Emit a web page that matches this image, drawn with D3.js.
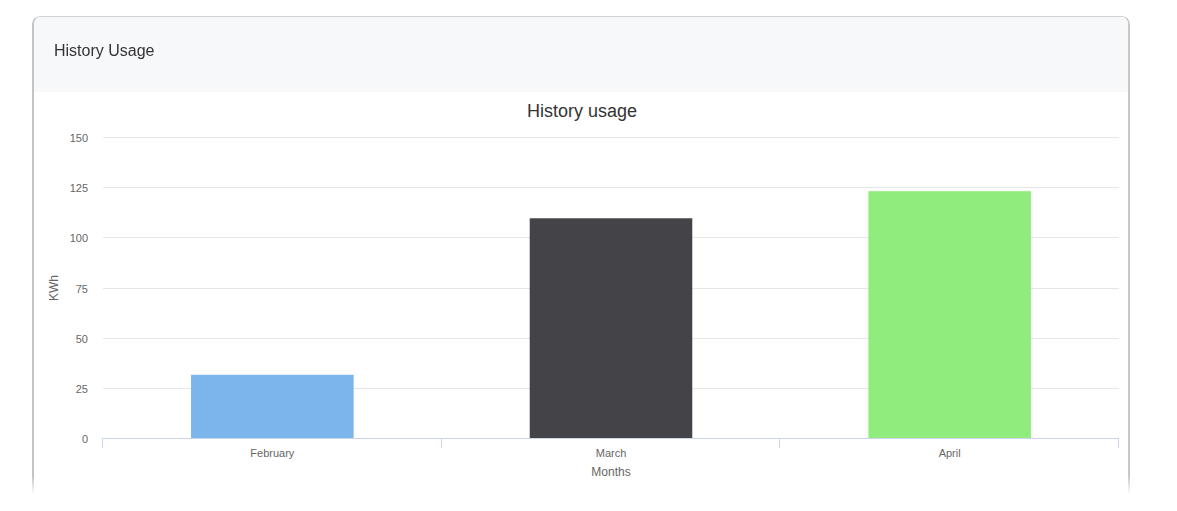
<!DOCTYPE html>
<html>
<head>
<meta charset="utf-8">
<script src="https://cdn.jsdelivr.net/npm/d3@7"></script>
<style>
  body { margin: 0; background: #fff; font-family: "Liberation Sans", Arial, Helvetica, sans-serif; }
  .card {
    position: absolute; left: 32px; top: 16px; width: 1094px; height: 480px;
    border: 1px solid #d2d2d2; border-left: 2px solid #c4c4c4; border-right: 2px solid #c8c8c8;
    border-bottom: none; border-radius: 8px 8px 0 0;
    -webkit-mask-image: linear-gradient(to bottom, #000 460px, transparent 478px);
  }
  .card-header {
    height: 75px; background: #f7f8fa; border-radius: 8px 8px 0 0;
    font-size: 16px; color: #333; line-height: 16px; padding: 26px 0 0 20px; box-sizing: border-box;
  }
  #chart { position: absolute; left: 0; top: 0; }
</style>
</head>
<body>
<div class="card"><div class="card-header">History Usage</div></div>
<svg id="chart" width="1177" height="511"></svg>
<script>
var months = ['February', 'March', 'April']
var usage = [31.5, 109.5, 123]
var colors = ['#7cb5ec', '#434348', '#90ed7d']
var yTicks = [0, 25, 50, 75, 100, 125, 150]

var svg = d3.select('#chart')
var plotLeft = 103, plotRight = 1119, plotTop = 137, plotBottom = 438

var x = d3.scaleBand().domain(months).range([plotLeft, plotRight])
var y = d3.scaleLinear().domain([0, 150]).range([plotBottom, plotTop])

// title
svg.append('text')
  .attr('x', 582).attr('y', 117)
  .attr('text-anchor', 'middle')
  .attr('font-size', 18).attr('fill', '#333333')
  .text('History usage')

// grid
svg.append('g').selectAll('line').data(yTicks.filter(function (d) { return d > 0 }))
  .enter().append('line')
  .attr('x1', plotLeft).attr('x2', plotRight)
  .attr('y1', function (d) { return Math.round(y(d)) + 0.5 })
  .attr('y2', function (d) { return Math.round(y(d)) + 0.5 })
  .attr('stroke', '#e6e6e6')

// y axis labels
var yAxis = svg.append('g').attr('transform', 'translate(' + plotLeft + ',1)')
  .call(d3.axisLeft(y).tickValues(yTicks).tickSize(0).tickPadding(15))
yAxis.select('.domain').remove()
yAxis.selectAll('text').attr('font-size', 11).attr('fill', '#666666')
  .attr('font-family', '"Liberation Sans", Arial, sans-serif')

svg.append('text')
  .attr('transform', 'translate(58,288) rotate(-90)')
  .attr('text-anchor', 'middle')
  .attr('font-size', 12).attr('fill', '#666666')
  .text('KWh')

// bars
var group = x.bandwidth() * 0.2
var barW = (x.bandwidth() - 2 * group) * 0.8
svg.append('g').selectAll('rect').data(usage)
  .enter().append('rect')
  .attr('x', function (d, i) { return x(months[i]) + (x.bandwidth() - barW) / 2 })
  .attr('width', barW)
  .attr('y', function (d) { return y(d) })
  .attr('height', function (d) { return plotBottom - y(d) })
  .attr('fill', function (d, i) { return colors[i] })

// x axis
var xAxis = svg.append('g').attr('transform', 'translate(0,' + (plotBottom + 0.5) + ')')
  .call(d3.axisBottom(x).tickSize(0).tickPadding(11))
xAxis.select('.domain').attr('stroke', '#ccd6eb').attr('d', 'M' + plotLeft + ',0H' + plotRight)
xAxis.selectAll('text').attr('font-size', 11).attr('fill', '#666666')
  .attr('font-family', '"Liberation Sans", Arial, sans-serif')

var edges = months.map(function (m) { return x(m) }).concat([plotRight])
svg.append('g').selectAll('line').data(edges)
  .enter().append('line')
  .attr('x1', function (d) { return Math.round(d) - 0.5 })
  .attr('x2', function (d) { return Math.round(d) - 0.5 })
  .attr('y1', plotBottom).attr('y2', plotBottom + 10)
  .attr('stroke', '#ccd6eb')

svg.append('text')
  .attr('x', 611).attr('y', 476)
  .attr('text-anchor', 'middle')
  .attr('font-size', 12).attr('fill', '#666666')
  .text('Months')
</script>
</body>
</html>
